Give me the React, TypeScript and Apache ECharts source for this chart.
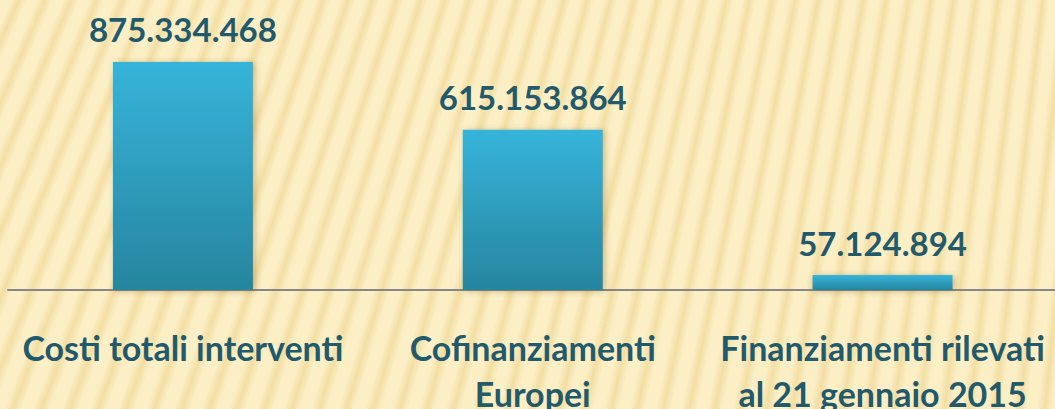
import React, { useEffect, useRef } from "react";
import * as echarts from "echarts";

const categories = [
  "Costi totali interventi",
  "Cofinanziamenti\nEuropei",
  "Finanziamenti rilevati\nal 21 gennaio 2015",
];
const values = [875334468, 615153864, 57124894];

const TEXT = "#225A6B";

function fmt(v: number): string {
  return String(v).replace(/\B(?=(\d{3})+(?!\d))/g, ".");
}

export default function App() {
  const ref = useRef<HTMLDivElement>(null);
  useEffect(() => {
    if (!ref.current) return;
    const chart = echarts.init(ref.current, undefined, { renderer: "svg" });
    chart.setOption({
      animation: false,
      grid: { left: 8, right: -2.5, top: 29.5, bottom: 119, containLabel: false, outerBoundsMode: "none" },
      xAxis: {
        type: "category",
        data: categories,
        axisTick: { show: false },
        axisLine: { show: true, lineStyle: { color: "#878787", width: 2 } },
        axisLabel: {
          interval: 0,
          margin: 34,
          color: TEXT,
          fontFamily: "Lato",
          fontWeight: "bold",
          fontSize: 34,
          lineHeight: 46,
        },
      },
      yAxis: {
        type: "value",
        min: 0,
        max: 1000000000,
        show: false,
        splitLine: { show: false },
      },
      series: [
        {
          type: "bar",
          data: values,
          barWidth: 140,
          itemStyle: {
            color: new echarts.graphic.LinearGradient(0, 0, 0, 1, [
              { offset: 0, color: "#36B4DA" },
              { offset: 1, color: "#27859F" },
            ]),
            shadowBlur: 6,
            shadowColor: "rgba(90,70,20,0.35)",
            shadowOffsetX: 2,
            shadowOffsetY: 1,
          },
          label: {
            show: true,
            position: "top",
            distance: 16,
            color: TEXT,
            fontFamily: "Lato",
            fontWeight: "bold",
            fontSize: 33,
            lineHeight: 33,
            formatter: (p: any) => fmt(p.value),
          },
        },
      ],
    });
    return () => chart.dispose();
  }, []);
  return (
    <div
      style={{
        position: "fixed",
        left: 0,
        top: 0,
        width: 1055,
        height: 409,
        background:
          "repeating-conic-gradient(from 0deg at 1411px -3145px, #FCEFC6 0deg, #FCEFC6 0.16deg, #F3DEA3 0.28deg, #FCEFC6 0.40deg)",
      }}
    >
      <div ref={ref} style={{ width: 1055, height: 409 }} />
    </div>
  );
}
